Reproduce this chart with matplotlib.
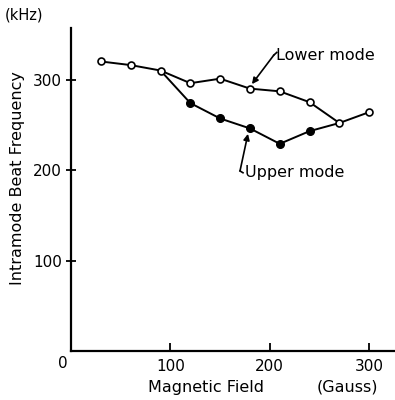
import numpy as np
import matplotlib.pyplot as plt

# lower mode (open circles)
field_low = [30, 60, 90, 120, 150, 180, 210, 240, 270, 300]
freq_low = [320, 316, 310, 296, 301, 290, 287, 275, 252, 264]

# upper mode (filled circles), starts and ends on lower mode points
field_up = [90, 120, 150, 180, 210, 240, 270]
freq_up = [310, 274, 257, 246, 229, 243, 252]
filled = [False, True, True, True, True, True, False]

plt.rcParams['font.family'] = 'DejaVu Sans'

fig = plt.figure(figsize=(3.95, 4.0), dpi=100)
ax = fig.add_axes([0.18, 0.1225, 0.82, 0.8075])

ax.plot(field_low, freq_low, color='black', lw=1.4, zorder=2)
ax.plot(field_up, freq_up, color='black', lw=1.4, zorder=2)
ax.plot(field_low, freq_low, 'o', ls='none', ms=5, mfc='white', mec='black',
        mew=1.2, zorder=3)
fx = [f for f, m in zip(field_up, filled) if m]
fy = [v for v, m in zip(freq_up, filled) if m]
ax.plot(fx, fy, 'o', ls='none', ms=5.5, mfc='black', mec='black', zorder=3)

ax.set_xlim(0, 326)
ax.set_ylim(0, 357)
ax.spines['top'].set_visible(False)
ax.spines['right'].set_visible(False)
ax.spines['left'].set_linewidth(1.6)
ax.spines['bottom'].set_linewidth(1.6)

ax.set_xticks([100, 200, 300])
ax.set_yticks([100, 200, 300])
ax.tick_params(axis='x', direction='in', length=6, width=1.3, labelsize=11, pad=6)
ax.tick_params(axis='y', direction='inout', length=7, width=1.3, labelsize=11, pad=3)

ax.text(-3, -6, '0', fontsize=11, ha='right', va='top', transform=ax.transData,
        clip_on=False)

# axis titles placed in figure coords like the original
fig.text(5 / 395, 1 - 15 / 400, '(kHz)', fontsize=10.5, ha='left', va='center')
fig.text(18 / 395, 1 - 178 / 400, 'Intramode Beat Frequency', fontsize=11.5,
         rotation=90, ha='center', va='center')
fig.text(206 / 395, 1 - 392 / 400, 'Magnetic Field', fontsize=11.5,
         ha='center', va='baseline')
fig.text(347 / 395, 1 - 392 / 400, '(Gauss)', fontsize=11.5,
         ha='center', va='baseline')

# annotations with hooked arrows
ax.annotate('', xy=(182, 295), xytext=(204, 327),
            arrowprops=dict(arrowstyle='-|>', color='black', lw=1.2,
                            mutation_scale=9, shrinkA=0, shrinkB=0))
ax.plot([204, 207], [327, 330], color='black', lw=1.2)
ax.text(206, 327, 'Lower mode', fontsize=11.5, ha='left', va='center')

ax.annotate('', xy=(178, 240), xytext=(170, 199),
            arrowprops=dict(arrowstyle='-|>', color='black', lw=1.2,
                            mutation_scale=9, shrinkA=0, shrinkB=0))
ax.plot([170, 173], [199, 197], color='black', lw=1.2)
ax.text(175, 197, 'Upper mode', fontsize=11.5, ha='left', va='center')

fig.savefig('out.png', dpi=100)
